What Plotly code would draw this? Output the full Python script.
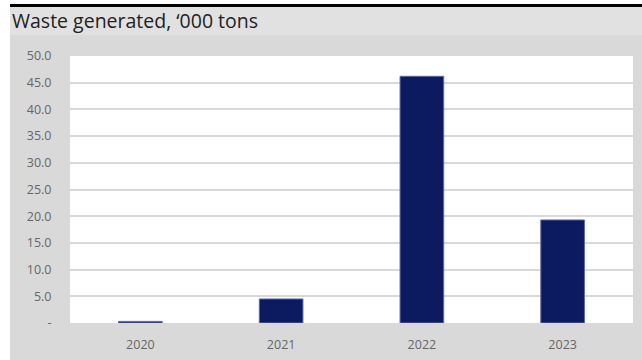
import plotly.graph_objects as go

years = ["2020", "2021", "2022", "2023"]
waste = [0.3, 4.5, 46.2, 19.3]
y_ticks = [0, 5, 10, 15, 20, 25, 30, 35, 40, 45, 50]
y_ticktext = ["-", "5.0", "10.0", "15.0", "20.0", "25.0", "30.0", "35.0", "40.0", "45.0", "50.0"]

W, H = 642, 360
L, R, T, B = 70, 9, 56, 37
pw, ph = W - L - R, H - T - B

def px(p):
    return (p - L) / pw

def py(q):
    return (H - B - q) / ph

fig = go.Figure()
fig.add_trace(go.Bar(
    x=years, y=waste, width=0.31,
    marker=dict(color="#0c1a60", line=dict(color="#5c6aa8", width=1)),
))

shapes = [
    dict(type="rect", xref="paper", yref="paper", x0=px(0), x1=px(10), y0=py(360), y1=py(0),
         fillcolor="#ffffff", line=dict(width=0), layer="below"),
    dict(type="rect", xref="paper", yref="paper", x0=px(10), x1=px(642), y0=py(7), y1=py(0),
         fillcolor="#ffffff", line=dict(width=0), layer="below"),
    dict(type="rect", xref="paper", yref="paper", x0=px(10), x1=px(642), y0=py(35), y1=py(7),
         fillcolor="#e1e1e1", line=dict(width=0), layer="below"),
    dict(type="rect", xref="paper", yref="paper", x0=px(10), x1=px(642), y0=py(7), y1=py(4),
         fillcolor="#000000", line=dict(width=0), layer="below"),
]

fig.update_layout(
    width=W, height=H,
    margin=dict(l=L, r=R, t=T, b=B),
    paper_bgcolor="#d9d9d9",
    plot_bgcolor="#ffffff",
    showlegend=False,
    shapes=shapes,
    font=dict(family="Open Sans", color="#666666", size=12.5),
    annotations=[dict(
        text="Waste generated, ‘000 tons", xref="paper", yref="paper",
        x=px(10), y=py(21), xanchor="left", yanchor="middle", showarrow=False,
        font=dict(family="Open Sans", size=19.5, color="#222222"),
    )],
    xaxis=dict(showgrid=False, showline=False, ticks="outside", ticklen=10,
               tickcolor="rgba(0,0,0,0)", automargin=False,
               tickfont=dict(size=12.5, color="#666666")),
    yaxis=dict(range=[0, 50], tickvals=y_ticks, ticktext=y_ticktext, showgrid=True,
               gridcolor="#d9d9d9", gridwidth=1.5, zeroline=False, showline=False,
               ticks="outside", ticklen=15, tickcolor="rgba(0,0,0,0)", automargin=False,
               tickfont=dict(size=12.5, color="#666666")),
)

fig.write_html("out.html")
